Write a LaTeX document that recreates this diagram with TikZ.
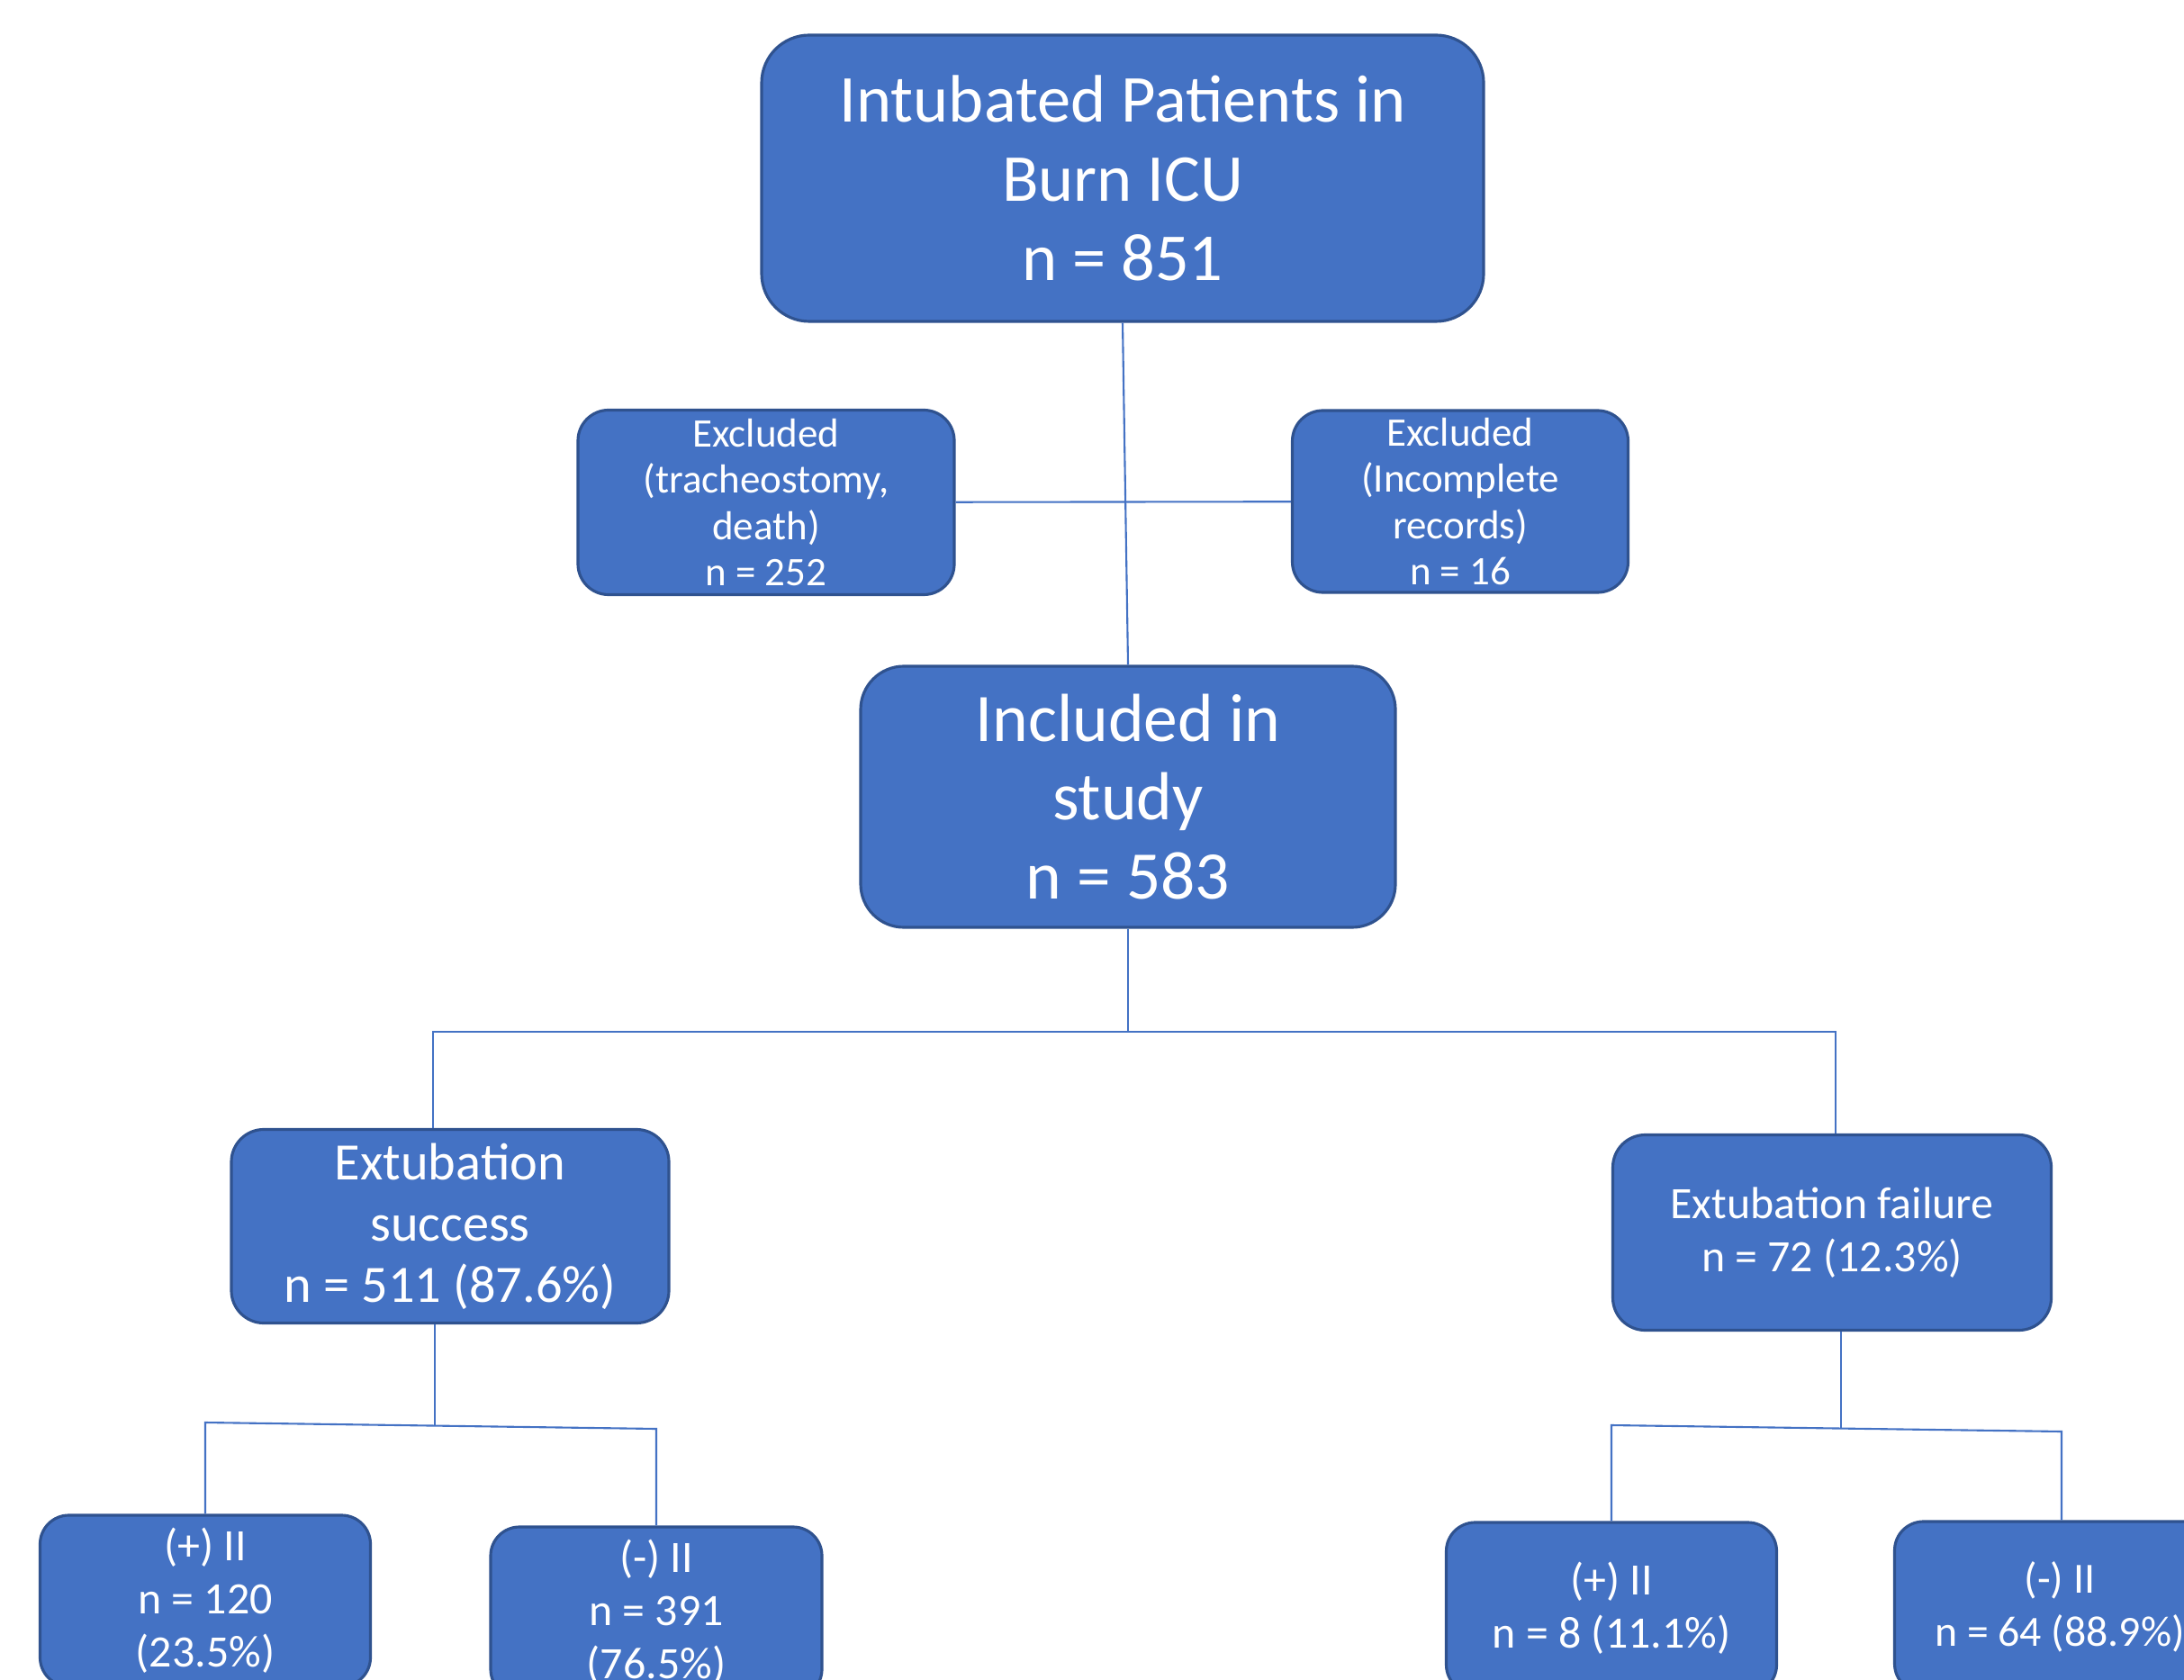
\documentclass[tikz,border=0pt]{standalone}
\usepackage{fontspec}
\setmainfont{Carlito}
\definecolor{boxfill}{HTML}{4472C4}
\definecolor{boxedge}{HTML}{2F528F}
\tikzset{
  flowbox/.style={draw=boxedge, fill=boxfill, text=white, align=center, line width=0.9pt, inner sep=0pt},
  link/.style={draw=boxfill, line width=0.6pt}
}
\begin{document}
\begin{tikzpicture}
\useasboundingbox (0,0) rectangle (24.26,-18.66);
% upper part
\node[flowbox, minimum width=8.02cm, minimum height=3.18cm, rounded corners=0.53cm, font=\fontsize{21.2}{25}\selectfont] (intub) at (12.47,-1.98) {Intubated Patients in\\Burn ICU\\n = 851};
\node[flowbox, minimum width=4.18cm, minimum height=2.05cm, rounded corners=0.34cm, font=\fontsize{12.8}{14.6}\selectfont] (exleft) at (8.51,-5.58) {Excluded\\(tracheostomy,\\death)\\n = 252};
\node[flowbox, minimum width=3.73cm, minimum height=2.02cm, rounded corners=0.34cm, font=\fontsize{12.8}{14.6}\selectfont] (exright) at (16.22,-5.57) {Excluded\\(Incomplete\\records)\\n = 16};
\node[flowbox, minimum width=5.94cm, minimum height=2.90cm, rounded corners=0.48cm, font=\fontsize{21.5}{25}\selectfont] (incl) at (12.53,-8.85) {Included in\\study\\n = 583};
\draw[link] (intub.south) -- (incl.north);
\draw[link] (exleft) -- (exright);
% outcome
\node[flowbox, minimum width=4.86cm, minimum height=2.15cm, rounded corners=0.36cm, font=\fontsize{16.6}{19.4}\selectfont] (succ) at (5.00,-13.62) {Extubation\\success\\n = 511 (87.6\%)};
\node[flowbox, minimum width=4.87cm, minimum height=2.17cm, rounded corners=0.36cm, font=\fontsize{14.2}{16.8}\selectfont] (fail) at (20.35,-13.69) {Extubation failure\\n = 72 (12.3\%)};
\coordinate (sbranch) at (4.81,-11.46);
\coordinate (fbranch) at (20.39,-11.46);
\draw[link] (incl.south) -- (incl.south |- sbranch);
\draw[link] (sbranch |- succ.north) -- (sbranch) -- (fbranch) -- (fbranch |- fail.north);
% inhalation injury
\node[flowbox, minimum width=3.67cm, minimum height=1.90cm, rounded corners=0.32cm, font=\fontsize{14.2}{16.8}\selectfont] (spos) at (2.28,-17.78) {(+) II\\n = 120\\(23.5\%)};
\node[flowbox, minimum width=3.68cm, minimum height=1.90cm, rounded corners=0.32cm, font=\fontsize{14.2}{16.8}\selectfont] (sneg) at (7.29,-17.91) {(-) II\\n = 391\\(76.5\%)};
\node[flowbox, minimum width=3.67cm, minimum height=1.90cm, rounded corners=0.32cm, font=\fontsize{14.2}{16.8}\selectfont] (fpos) at (17.90,-17.86) {(+) II\\n = 8 (11.1\%)};
\node[flowbox, minimum width=3.67cm, minimum height=1.90cm, rounded corners=0.32cm, font=\fontsize{13.6}{16.8}\selectfont] (fneg) at (22.88,-17.85) {(-) II\\n = 64 (88.9\%)};
\coordinate (sleft) at (2.28,-15.80);
\coordinate (sright) at (7.29,-15.87);
\coordinate (sstem) at (4.83,-15.84);
\coordinate (fleft) at (17.90,-15.83);
\coordinate (fright) at (22.90,-15.90);
\coordinate (fstem) at (20.45,-15.86);
\draw[link] (sstem |- succ.south) -- (sstem);
\draw[link] (spos.north) -- (sleft) -- (sright) -- (sneg.north);
\draw[link] (fstem |- fail.south) -- (fstem);
\draw[link] (fpos.north) -- (fleft) -- (fright) -- (fright |- fneg.north);
\end{tikzpicture}
\end{document}
